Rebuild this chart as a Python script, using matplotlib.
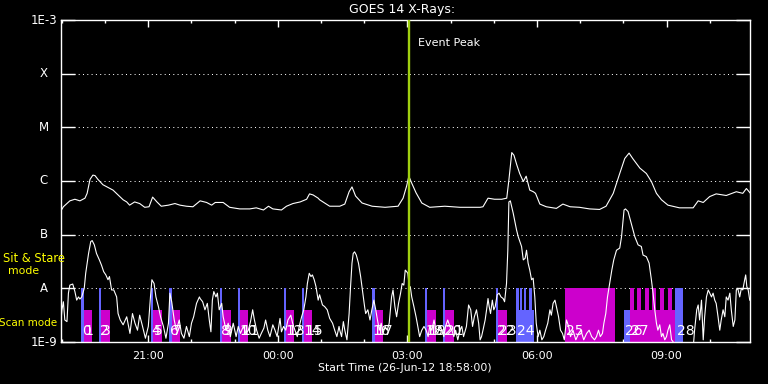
import numpy as np
import matplotlib
matplotlib.use("Agg")
import matplotlib.pyplot as plt
from matplotlib.ticker import FixedLocator, NullLocator

# time axis: minutes after start (26-Jun-12 18:58:00)
start_hour = 18 + 58 / 60.0
span_min = 958

# GOES 14 long channel (1-8 A), (minutes, log10 W/m^2)
long_xrs = [(0, -6.57), (4, -6.48), (13, -6.37), (20, -6.34), (27, -6.37), (34, -6.32),
            (37, -6.23), (41, -5.97), (45, -5.89), (48, -5.90), (52, -5.97), (59, -6.07),
            (66, -6.12), (73, -6.17), (80, -6.26), (87, -6.35), (92, -6.39), (96, -6.45),
            (103, -6.39), (110, -6.42), (117, -6.49), (123, -6.48), (128, -6.30), (134, -6.39),
            (140, -6.47), (150, -6.45), (159, -6.42), (166, -6.45), (175, -6.47), (184, -6.48),
            (194, -6.37), (203, -6.40), (210, -6.45), (215, -6.40), (226, -6.40), (235, -6.49),
            (249, -6.52), (263, -6.52), (272, -6.50), (282, -6.54), (289, -6.47), (295, -6.52),
            (307, -6.54), (314, -6.47), (323, -6.42), (333, -6.39), (342, -6.34), (346, -6.24),
            (351, -6.26), (358, -6.32), (360, -6.35), (374, -6.47), (388, -6.47), (395, -6.43),
            (401, -6.20), (405, -6.11), (410, -6.28), (419, -6.41), (433, -6.47), (451, -6.49),
            (469, -6.47), (476, -6.32), (481, -6.09), (484, -5.91), (488, -6.04), (494, -6.22),
            (502, -6.41), (513, -6.49), (534, -6.47), (555, -6.49), (583, -6.49), (587, -6.48),
            (594, -6.32), (603, -6.34), (613, -6.34), (620, -6.32), (623, -5.98), (627, -5.47),
            (630, -5.52), (634, -5.70), (638, -5.86), (643, -6.01), (647, -5.91), (652, -6.17),
            (657, -6.20), (660, -6.23), (666, -6.43), (675, -6.48), (689, -6.51), (698, -6.43),
            (708, -6.48), (721, -6.49), (735, -6.52), (749, -6.53), (758, -6.47), (768, -6.23),
            (777, -5.86), (784, -5.58), (790, -5.48), (795, -5.58), (805, -5.76), (814, -5.86),
            (821, -6.01), (828, -6.23), (835, -6.35), (844, -6.45), (860, -6.50), (879, -6.50),
            (886, -6.37), (893, -6.40), (902, -6.29), (911, -6.24), (925, -6.27), (939, -6.20),
            (948, -6.23), (953, -6.14), (958, -6.22)]

# GOES 14 short channel (0.5-4 A), (minutes, log10 W/m^2)
short_xrs = [(0, -8.71), (2, -8.40), (4, -8.25), (6, -8.59), (9, -8.62), (11, -8.09),
             (13, -7.94), (17, -7.92), (20, -8.06), (22.5, -8.22), (25, -8.16), (27, -8.20),
             (29.5, -8.16), (33, -8.00), (35, -7.72), (39, -7.35), (42, -7.13), (44, -7.11),
             (47, -7.19), (50, -7.35), (54, -7.47), (57, -7.57), (60, -7.69), (63, -7.75),
             (66, -7.84), (68, -7.78), (71, -8.03), (74, -8.03), (78, -8.16), (80, -8.47),
             (83, -8.59), (87, -8.68), (92, -8.53), (96.5, -8.84), (100, -8.47), (103.5, -8.65),
             (107, -8.78), (110, -8.50), (114, -8.71), (118, -8.93), (122, -8.71), (125, -8.16),
             (127, -7.84), (130, -7.91), (132.6, -8.16), (136, -8.34), (139, -8.53), (143, -8.71),
             (146.5, -8.93), (150, -8.65), (152, -8.09), (154.5, -8.25), (158, -8.59), (161, -8.78),
             (165, -8.59), (168, -8.84), (171.5, -8.93), (175, -8.71), (179, -8.90), (182, -8.65),
             (185, -8.53), (189, -8.28), (193, -8.16), (194, -8.19), (197.5, -8.25), (200.7, -8.40),
             (204, -8.28), (206.7, -8.59), (209, -8.81), (211, -8.22), (213, -8.06), (216, -8.16),
             (218, -8.09), (220.5, -8.40), (224, -8.28), (226, -8.53), (230, -8.78), (233, -8.65),
             (236, -8.90), (240, -8.65), (244, -8.90), (247, -8.71), (250, -8.84), (254, -8.71),
             (257.6, -8.84), (261, -8.78), (264, -8.62), (267, -8.40), (269, -8.56), (272.5, -8.78),
             (276, -8.93), (279, -8.84), (282.6, -8.74), (285, -8.59), (288, -8.78), (291, -8.90),
             (295, -8.68), (298, -8.78), (301, -8.90), (305, -8.56), (307, -8.81), (310, -8.71),
             (313, -8.78), (316, -8.59), (320, -8.50), (322.5, -8.65), (325.7, -8.78), (329, -8.90),
             (331.7, -8.71), (335, -8.53), (338, -8.40), (341, -8.16), (343, -7.91), (345.6, -7.72),
             (348, -7.78), (350, -7.75), (352.5, -7.84), (355, -7.97), (358, -8.22), (360, -8.12),
             (364, -8.31), (367, -8.34), (370.6, -8.40), (374, -8.56), (378, -8.65), (381, -8.78),
             (384, -8.90), (387, -8.71), (388, -8.78), (390.5, -8.90), (393, -8.62), (395, -8.78),
             (398, -8.96), (401, -8.47), (403, -7.97), (405, -7.53), (406.7, -7.35), (408.6, -7.32),
             (411, -7.38), (414, -7.53), (417, -7.78), (420, -8.09), (422.5, -8.34), (424, -8.47),
             (427, -8.40), (430, -8.59), (432.6, -8.40), (435.4, -8.22), (438, -8.40), (440, -8.56),
             (443, -8.78), (445.6, -8.65), (448, -8.84), (451, -8.71), (454, -8.78), (456.7, -8.65),
             (460, -8.16), (462, -8.03), (464.6, -8.34), (467, -8.53), (469.7, -8.28), (472.5, -8.09),
             (474.7, -7.91), (477, -7.94), (479, -7.66), (481, -7.69), (482.6, -7.72), (484.5, -7.97),
             (486, -7.97), (488, -8.16), (491, -8.34), (494, -8.53), (496.5, -8.71), (499, -8.90),
             (502, -8.78), (505, -8.71), (508, -8.78), (510.8, -8.90), (513, -8.71), (516, -8.78),
             (519, -8.59), (521.5, -8.78), (524, -8.84), (527, -8.71), (530, -8.78), (532.6, -8.90),
             (535, -8.71), (538, -8.59), (541, -8.71), (543.8, -8.78), (546.5, -8.90), (549, -8.78),
             (552, -8.96), (555, -8.78), (557.6, -8.71), (560, -8.90), (564, -8.71), (567, -8.31),
             (570, -8.40), (572.5, -8.71), (575, -8.53), (578, -8.40), (581, -8.65), (583, -8.96),
             (585, -8.90), (587, -8.78), (590, -8.59), (592, -8.40), (594, -8.19), (595.6, -8.34),
             (597.5, -8.47), (600, -8.22), (602, -8.40), (604, -8.34), (606.7, -8.12), (609.4, -8.09),
             (612, -8.16), (615, -8.19), (617, -8.25), (619.7, -7.91), (621.5, -7.29), (623, -6.39),
             (625, -6.37), (629, -6.60), (633.6, -6.91), (636, -7.04), (640.6, -7.22), (643, -7.47),
             (645.6, -7.44), (647.5, -7.29), (649.7, -7.53), (652, -7.66), (654.5, -7.84), (656.7, -7.81),
             (659, -8.16), (661, -8.65), (663.6, -8.90), (666, -8.78), (668.8, -8.96), (671.5, -8.90),
             (674, -8.78), (677, -8.65), (680, -8.40), (682, -8.50), (684.4, -8.28), (687, -8.22),
             (689, -8.34), (692, -8.53), (694.7, -8.78), (697.5, -8.84), (700, -8.96), (703, -8.59),
             (706, -8.71), (708.6, -8.90), (712, -8.78), (716, -8.96), (720, -8.84), (723, -8.78),
             (727, -8.96), (731, -8.84), (734.5, -8.78), (738, -8.90), (742, -8.96), (744.7, -8.90),
             (747.5, -8.78), (750, -8.90), (753, -8.84), (755, -8.65), (757.6, -8.47), (760, -8.16),
             (763, -7.91), (766, -7.66), (768.7, -7.47), (772.5, -7.29), (777, -7.25), (779.5, -7.04),
             (783, -6.54), (785, -6.52), (788.6, -6.57), (793, -6.79), (798, -7.04), (802.5, -7.19),
             (807, -7.22), (809.4, -7.38), (814, -7.41), (817.8, -7.53), (821, -7.84), (823.3, -8.09),
             (825.7, -8.40), (828, -8.65), (830, -8.78), (832.6, -8.68), (835, -8.90), (837, -8.84),
             (839.6, -8.96), (842, -8.90), (844, -8.78), (846.5, -8.68), (849, -8.96), (851, -8.99),
             (853, -9.30), (878, -9.30), (881, -8.78), (884, -8.40), (886, -8.31), (888, -8.59),
             (890.6, -8.22), (893, -8.96), (895, -8.53), (897.5, -8.16), (900, -8.03), (902, -8.09),
             (904.5, -8.16), (906.7, -8.09), (909, -8.22), (911, -8.28), (913.6, -8.53), (916, -8.78),
             (918, -8.59), (920.6, -8.40), (923, -8.53), (925, -8.16), (927.5, -8.22), (930, -8.09),
             (932, -8.40), (934.7, -8.71), (937, -8.59), (939, -8.03), (941, -8.00), (943.7, -8.16),
             (946, -8.00), (948, -8.03), (950.6, -7.84), (952, -7.75), (953.6, -7.97), (955.5, -8.03),
             (957.6, -8.22)]

event_peak_min = 484

# observations (start min), numbered in start order
obs_start = [28.9, 32.2, 53.5, 56.7, 125.3, 128.9, 150.7, 154.4, 221.5, 224.7,
             246.5, 249.7, 310.4, 313.6, 335.4, 338.6, 432.6, 436.4, 506.2, 509.4,
             531.2, 534.4, 604.9, 608.0, 632.6, 700.7, 782.5, 790.8, 854.4]

blue_stare = [(28.9, 32.2), (53.5, 56.7), (125.3, 128.9), (150.7, 154.4), (221.5, 224.7),
              (246.5, 249.7), (310.4, 313.6), (335.4, 338.6), (432.6, 436.4), (506.2, 509.4),
              (531.2, 534.4), (604.9, 608.0), (632.6, 636.4), (638.6, 641.4), (643.3, 646.1),
              (650.3, 654.9), (854.4, 864.6)]
blue_scan = [(632.6, 657.6), (782.5, 790.8)]
magenta_scan = [(32.2, 43.75), (56.7, 68.75), (128.9, 140.6), (154.4, 166.0), (224.7, 236.8),
                (249.7, 260.8), (313.6, 324.3), (338.6, 349.3), (436.4, 448.3), (509.4, 521.5),
                (534.4, 546.5), (608.0, 619.7), (790.8, 854.4)]
magenta_stare = [(700.7, 770.1), (790.8, 796.4), (801.6, 807.2), (811.8, 817.4),
                 (822.5, 828.0), (833.0, 838.6), (843.7, 849.7)]

level_vals = [1e-9, 1e-8, 1e-7, 1e-6, 1e-5, 1e-4, 1e-3]
level_names = ["1E-9", "A", "B", "C", "M", "X", "1E-3"]
stare_top = 1e-8
scan_top = 10 ** -8.4

xtick_hours = [21, 24, 27, 30, 33]
xtick_names = ["21:00", "00:00", "03:00", "06:00", "09:00"]

W, H = 768, 384
BLUE = "#6464ff"
MAGENTA = "#cc00cc"
YELLOW = "#ffff00"
GREEN = "#a0d010"
NUM_FONT = ["Liberation Sans Narrow", "DejaVu Sans"]


def to_hour(m):
    return start_hour + np.asarray(m, dtype=float) / 60.0


fig = plt.figure(figsize=(W / 100, H / 100), dpi=100, facecolor="black")
ax = fig.add_axes([60.5 / W, 1 - 342 / H, 689.5 / W, 322 / H], facecolor="black")
ax.set_yscale("log")
ax.set_ylim(1e-9, 1e-3)
ax.set_xlim(start_hour, start_hour + span_min / 60.0)

# dotted level lines
for v in level_vals[1:-1]:
    ax.axhline(v, color="white", lw=0.72, ls=(0, (1, 3.3)), zorder=1)


# observation bars
def draw_bars(spans, top, color):
    s = np.array([a for a, b in spans])
    e = np.array([b for a, b in spans])
    ax.bar(to_hour(s), top - 1e-9, width=(e - s) / 60.0, bottom=1e-9,
           align="edge", color=color, lw=0, zorder=2)


draw_bars(blue_scan, scan_top, BLUE)
draw_bars(magenta_scan, scan_top, MAGENTA)
draw_bars(blue_stare, stare_top, BLUE)
draw_bars(magenta_stare, stare_top, MAGENTA)

for i, s in enumerate(obs_start):
    ax.text(to_hour(s + 1.5), 10 ** -8.8, str(i), color="white", fontsize=10,
            family=NUM_FONT, ha="left", va="center", zorder=5)

# x-ray curves
lt, lv = zip(*long_xrs)
st, sv = zip(*short_xrs)
ax.plot(to_hour(lt), 10 ** np.array(lv), color="white", lw=0.8, zorder=3)
ax.plot(to_hour(st), 10 ** np.array(sv), color="white", lw=0.8, zorder=3)

# event peak
ax.axvline(to_hour(event_peak_min), color=GREEN, lw=1.7, zorder=4)
ax.text(to_hour(event_peak_min) + 9 / 43.2, 10 ** (-3 - 23 / 53.67), "Event Peak",
        color="white", fontsize=8, ha="left", va="center")

# axes styling
for sp in ax.spines.values():
    sp.set_color("white")
    sp.set_linewidth(1.0)
ax.yaxis.set_major_locator(FixedLocator(level_vals))
ax.yaxis.set_minor_locator(NullLocator())
ax.set_yticklabels([])
ax.tick_params(axis="y", which="major", direction="in", length=10, width=1.0,
               color="white", left=True, right=True)
for v, name in zip(level_vals, level_names):
    ax.text(-16.5 / 689.5, v, name, transform=ax.get_yaxis_transform(),
            color="white", fontsize=8.5, ha="center", va="center")

ax.xaxis.set_major_locator(FixedLocator(xtick_hours))
ax.set_xticklabels(xtick_names)
ax.xaxis.set_minor_locator(FixedLocator(np.arange(19, 35)))
ax.tick_params(axis="x", which="major", direction="in", length=4.8, width=1.0,
               color="white", top=True, bottom=True, labelcolor="white",
               labelsize=8, pad=6.5)
ax.tick_params(axis="x", which="minor", direction="in", length=2.4, width=1.0,
               color="white", top=True, bottom=True)

fig.text(402 / W, 1 - 9 / H, "GOES 14 X-Rays:", color="white", fontsize=9,
         ha="center", va="center")
fig.text(404.5 / W, 1 - 368 / H, "Start Time (26-Jun-12 18:58:00)", color="white",
         fontsize=7.8, ha="center", va="center")
fig.text(34 / W, 1 - 258.5 / H, "Sit & Stare", color=YELLOW, fontsize=8.3,
         ha="center", va="center")
fig.text(24 / W, 1 - 271 / H, "mode", color=YELLOW, fontsize=7.8, ha="center", va="center")
fig.text(28.5 / W, 1 - 323 / H, "Scan mode", color=YELLOW, fontsize=7.5,
         ha="center", va="center")

fig.savefig("out.png", dpi=100, facecolor="black")
